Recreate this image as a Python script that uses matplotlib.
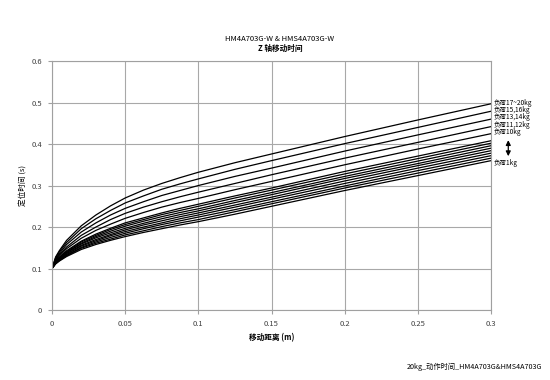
import matplotlib
matplotlib.use('Agg')
import matplotlib.pyplot as plt

plt.rcParams['font.family'] = ['Noto Sans CJK SC', 'DejaVu Sans']

# Move distance (m)
distance = [0, 0.0025, 0.005, 0.01, 0.02, 0.03, 0.04, 0.05, 0.0625, 0.075,
            0.0875, 0.1, 0.125, 0.15, 0.2, 0.25, 0.3]

# Positioning time (s), heaviest load first
times = [
    [.100, .128, .143, .168, .203, .229, .251, .270, .289, .305, .319, .332, .355, .376, .418, .458, .497],
    [.100, .126, .140, .163, .196, .220, .240, .258, .275, .291, .304, .316, .339, .360, .401, .440, .479],
    [.100, .123, .136, .158, .188, .210, .229, .245, .261, .276, .288, .300, .322, .342, .383, .422, .460],
    [.100, .121, .133, .152, .180, .200, .218, .233, .248, .261, .273, .284, .305, .326, .366, .404, .442],
    [.100, .119, .130, .148, .173, .192, .207, .221, .235, .248, .259, .269, .290, .310, .350, .388, .425],
    [.100, .117, .127, .143, .166, .183, .197, .210, .222, .234, .245, .255, .275, .294, .334, .371, .408],
    [.100, .116, .126, .141, .164, .180, .194, .206, .218, .230, .240, .250, .270, .289, .328, .365, .402],
    [.100, .116, .125, .139, .161, .177, .190, .202, .214, .225, .235, .244, .264, .283, .322, .359, .396],
    [.100, .115, .124, .138, .159, .174, .186, .197, .209, .220, .230, .239, .259, .278, .317, .353, .390],
    [.100, .114, .122, .136, .156, .170, .182, .193, .205, .215, .225, .234, .253, .272, .311, .348, .384],
    [.100, .113, .121, .134, .154, .167, .179, .189, .200, .210, .220, .229, .248, .267, .305, .342, .378],
    [.100, .113, .120, .132, .151, .164, .175, .185, .196, .206, .215, .224, .242, .261, .299, .336, .372],
    [.100, .112, .119, .131, .149, .161, .171, .181, .191, .201, .210, .218, .237, .256, .294, .330, .366],
    [.100, .111, .118, .129, .146, .158, .168, .177, .187, .196, .205, .213, .231, .250, .288, .324, .360],
]

load_labels = ['负荷17~20kg', '负荷15,16kg', '负荷13,14kg', '负荷11,12kg',
               '负荷10kg', '负荷1kg']
label_y = [0.499, 0.481, 0.464, 0.446, 0.428, 0.355]

x_ticks = [0, 0.05, 0.1, 0.15, 0.2, 0.25, 0.3]
x_tick_labels = ['0', '0.05', '0.1', '0.15', '0.2', '0.25', '0.3']
y_ticks = [0, 0.1, 0.2, 0.3, 0.4, 0.5, 0.6]
y_tick_labels = ['0', '0.1', '0.2', '0.3', '0.4', '0.5', '0.6']

fig = plt.figure(figsize=(5.5, 3.8), dpi=100)
ax = fig.add_axes([0.0945, 0.184, 0.7985, 0.6555])

for t in times:
    ax.plot(distance, t, color='black', lw=0.9)

ax.set_xlim(0, 0.3)
ax.set_ylim(0, 0.6)
ax.set_xticks(x_ticks)
ax.set_xticklabels(x_tick_labels)
ax.set_yticks(y_ticks)
ax.set_yticklabels(y_tick_labels)
ax.tick_params(labelsize=5.5, colors='#404040', length=3, width=0.8,
               color='#a0a0a0', pad=4)
ax.grid(True, color='#a8a8a8', lw=0.8)
for s in ax.spines.values():
    s.set_color('#a0a0a0')
    s.set_linewidth(0.8)

for lab, y in zip(load_labels, label_y):
    ax.annotate(lab, xy=(0.3, y), xytext=(1.5, 0), textcoords='offset points',
                fontsize=4.7, va='center', ha='left', annotation_clip=False)

# double-headed arrow between 10kg and 1kg
ax.annotate('', xy=(1.039, 0.364), xytext=(1.039, 0.416),
            xycoords=('axes fraction', 'data'),
            arrowprops=dict(arrowstyle='<|-|>', color='black', lw=0.9,
                            mutation_scale=7), annotation_clip=False)

fig.text(0.509, 0.898, 'HM4A703G-W & HMS4A703G-W', ha='center', va='center',
         fontsize=5.5)
fig.text(0.509, 0.872, 'Z 轴移动时间', ha='center', va='center',
         fontsize=5.5, fontweight='bold')
ax.set_ylabel('定位时间 (s)', fontsize=5.5, labelpad=3)
ax.set_xlabel('移动距离 (m)', fontsize=5.5, fontweight='bold', labelpad=4)
fig.text(0.862, 0.035, '20kg_动作时间_HM4A703G&HMS4A703G', ha='center',
         va='center', fontsize=5.2)

fig.savefig('out.png', dpi=100)
